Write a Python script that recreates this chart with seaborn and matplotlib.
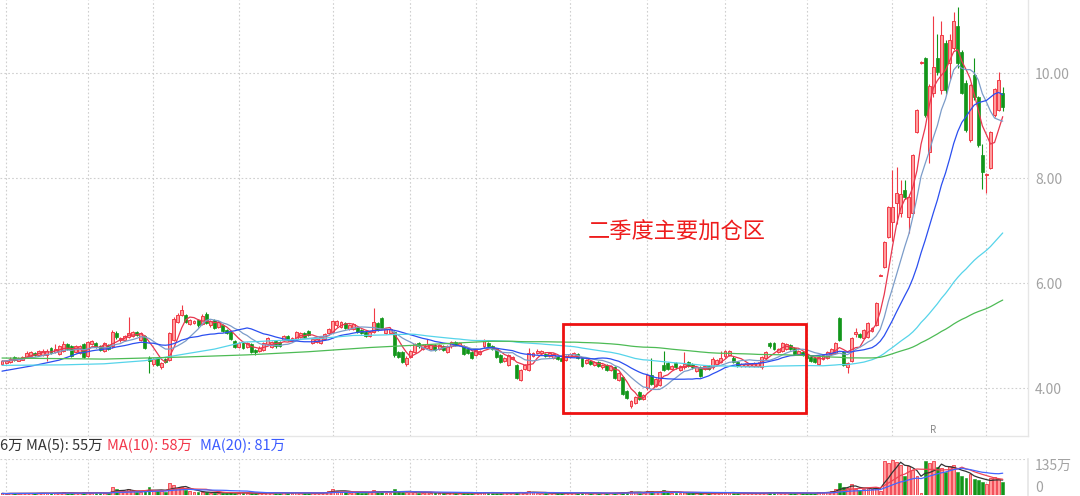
import numpy as np
import pandas as pd
import matplotlib
matplotlib.use("Agg")
import matplotlib.pyplot as plt
import seaborn as sns
from matplotlib.patches import Rectangle

# daily candles (left to right)
opens = [
    4.47, 4.48, 4.50, 4.60, 4.53, 4.55, 4.60, 4.62, 4.68, 4.63,
    4.64, 4.64, 4.77, 4.70, 4.66, 4.72, 4.85, 4.80, 4.70, 4.67,
    4.85, 4.62, 4.84, 4.87, 4.80, 4.72, 4.82, 4.80, 5.06, 4.92,
    4.93, 4.98, 5.00, 5.07, 4.92, 5.00, 4.58, 4.46, 4.58, 4.40,
    4.56, 4.55, 4.92, 5.27, 5.40, 5.40, 5.22, 5.24, 5.30, 5.22,
    5.42, 5.20, 5.30, 5.18, 5.21, 5.12, 5.08, 4.90, 4.79, 4.87,
    4.79, 4.85, 4.74, 4.71, 4.74, 4.84, 4.79, 4.90, 4.88, 4.92,
    5.00, 4.90, 4.94, 4.98, 5.06, 5.10, 4.87, 4.88, 4.86, 4.95,
    5.05, 5.08, 5.20, 5.18, 5.24, 5.14, 5.14, 5.17, 5.12, 5.08,
    5.00, 5.08, 5.24, 5.34, 5.06, 5.06, 5.08, 4.70, 4.70, 4.46,
    4.60, 4.70, 4.86, 4.76, 4.78, 4.76, 4.82, 4.75, 4.80, 4.70,
    4.80, 4.88, 4.82, 4.80, 4.75, 4.70, 4.64, 4.66, 4.80, 4.86,
    4.80, 4.75, 4.63, 4.52, 4.45, 4.56, 4.45, 4.17, 4.38, 4.36,
    4.62, 4.67, 4.68, 4.66, 4.62, 4.58, 4.62, 4.58, 4.55, 4.60,
    4.62, 4.66, 4.58, 4.48, 4.52, 4.44, 4.50, 4.40, 4.44, 4.36,
    4.40, 4.16, 4.22, 3.96, 3.66, 3.72, 3.94, 3.80, 4.00, 4.25,
    4.05, 4.07, 4.45, 4.48, 4.37, 4.48, 4.35, 4.40, 4.50, 4.46,
    4.33, 4.40, 4.37, 4.42, 4.40, 4.46, 4.50, 4.61, 4.64, 4.59,
    4.50, 4.42, 4.42, 4.42, 4.42, 4.42, 4.40, 4.58, 4.87, 4.86,
    4.70, 4.72, 4.76, 4.82, 4.77, 4.66, 4.70, 4.64, 4.60, 4.58,
    4.46, 4.56, 4.58, 4.66, 4.68, 5.34, 4.70, 4.40, 4.52, 5.04,
    5.04, 4.97, 4.99, 5.10, 5.21, 6.15, 6.31, 6.89, 7.17, 7.53,
    7.35, 7.78, 7.27, 7.35, 8.88, 10.20, 10.30, 8.50, 9.62, 10.30,
    9.68, 10.58, 10.20, 10.48, 10.90, 10.40, 9.82, 8.73, 9.97, 9.55,
    8.45, 8.06, 8.20, 9.20, 9.30, 9.63,
]
closes = [
    4.52, 4.53, 4.57, 4.55, 4.58, 4.60, 4.68, 4.70, 4.63, 4.72,
    4.72, 4.72, 4.68, 4.75, 4.80, 4.85, 4.76, 4.62, 4.80, 4.80,
    4.60, 4.88, 4.90, 4.79, 4.74, 4.87, 4.76, 5.08, 4.98, 4.96,
    5.00, 5.06, 5.08, 5.02, 5.06, 4.78, 4.52, 4.56, 4.45, 4.48,
    4.50, 5.05, 5.33, 5.40, 5.50, 5.27, 5.30, 5.28, 5.20, 5.38,
    5.25, 5.28, 5.16, 5.27, 5.10, 5.05, 4.94, 4.79, 4.87, 4.78,
    4.86, 4.70, 4.70, 4.78, 4.87, 4.96, 4.88, 4.80, 4.81, 5.00,
    4.93, 4.96, 5.08, 5.06, 4.99, 5.02, 4.95, 4.94, 4.98, 5.03,
    5.14, 5.28, 5.29, 5.26, 5.16, 5.20, 5.22, 5.08, 5.06, 5.00,
    5.08, 5.26, 5.12, 5.15, 5.14, 5.14, 4.63, 4.60, 4.50, 4.58,
    4.72, 4.84, 4.80, 4.82, 4.84, 4.82, 4.74, 4.82, 4.74, 4.80,
    4.88, 4.82, 4.87, 4.66, 4.68, 4.58, 4.73, 4.72, 4.90, 4.80,
    4.76, 4.60, 4.50, 4.58, 4.63, 4.60, 4.20, 4.36, 4.44, 4.67,
    4.68, 4.72, 4.72, 4.62, 4.68, 4.65, 4.56, 4.52, 4.62, 4.66,
    4.68, 4.58, 4.42, 4.54, 4.47, 4.50, 4.42, 4.45, 4.36, 4.42,
    4.20, 4.30, 3.90, 3.82, 3.76, 3.84, 3.80, 3.88, 4.25, 4.08,
    4.18, 4.31, 4.35, 4.38, 4.42, 4.40, 4.42, 4.46, 4.42, 4.40,
    4.40, 4.24, 4.43, 4.37, 4.57, 4.54, 4.58, 4.72, 4.72, 4.50,
    4.43, 4.46, 4.47, 4.47, 4.48, 4.48, 4.60, 4.70, 4.80, 4.76,
    4.76, 4.86, 4.84, 4.76, 4.65, 4.72, 4.63, 4.58, 4.52, 4.50,
    4.60, 4.64, 4.70, 4.76, 4.87, 4.93, 4.45, 4.48, 4.96, 5.07,
    4.98, 5.11, 5.24, 5.16, 5.62, 6.17, 6.79, 7.46, 7.46, 7.72,
    7.70, 7.65, 7.65, 8.45, 9.30, 10.22, 9.20, 9.76, 10.12, 10.03,
    10.73, 9.68, 10.64, 11.00, 10.20, 9.63, 8.93, 9.78, 9.55, 8.64,
    8.13, 8.08, 8.88, 9.70, 9.87, 9.36,
]
highs = [
    4.54, 4.55, 4.60, 4.62, 4.60, 4.62, 4.71, 4.72, 4.70, 4.74,
    4.76, 4.75, 4.79, 4.85, 4.82, 4.90, 4.87, 4.82, 4.82, 4.83,
    4.86, 4.90, 4.93, 4.89, 4.82, 4.89, 4.84, 5.12, 5.10, 4.99,
    5.02, 5.36, 5.10, 5.09, 5.08, 5.02, 4.62, 4.58, 4.60, 4.50,
    4.58, 5.08, 5.36, 5.44, 5.59, 5.42, 5.32, 5.31, 5.32, 5.42,
    5.45, 5.30, 5.32, 5.29, 5.23, 5.14, 5.10, 4.92, 4.89, 4.89,
    4.88, 4.87, 4.76, 4.80, 4.89, 4.98, 4.90, 4.92, 4.90, 5.02,
    5.02, 4.98, 5.10, 5.08, 5.08, 5.12, 4.97, 4.96, 5.00, 5.05,
    5.16, 5.30, 5.31, 5.28, 5.26, 5.22, 5.24, 5.19, 5.14, 5.10,
    5.10, 5.53, 5.26, 5.36, 5.16, 5.16, 5.10, 4.72, 4.72, 4.62,
    4.74, 4.86, 4.88, 4.84, 4.94, 4.84, 4.84, 4.84, 4.82, 4.82,
    4.90, 4.90, 4.89, 4.82, 4.77, 4.72, 4.75, 4.74, 4.95, 4.88,
    4.82, 4.77, 4.65, 4.60, 4.65, 4.62, 4.47, 4.38, 4.46, 4.77,
    4.70, 4.76, 4.74, 4.68, 4.70, 4.67, 4.64, 4.60, 4.64, 4.68,
    4.70, 4.68, 4.60, 4.56, 4.54, 4.52, 4.52, 4.47, 4.46, 4.44,
    4.42, 4.32, 4.24, 3.98, 3.78, 3.86, 3.96, 3.90, 4.27, 4.58,
    4.20, 4.33, 4.72, 4.50, 4.44, 4.50, 4.44, 4.70, 4.52, 4.48,
    4.42, 4.42, 4.45, 4.44, 4.60, 4.56, 4.72, 4.74, 4.74, 4.61,
    4.52, 4.48, 4.49, 4.49, 4.50, 4.50, 4.62, 4.72, 4.89, 4.88,
    4.78, 4.88, 4.86, 4.84, 4.79, 4.74, 4.72, 4.66, 4.62, 4.60,
    4.62, 4.66, 4.72, 4.78, 4.89, 5.36, 4.72, 4.50, 4.98, 5.16,
    5.06, 5.13, 5.26, 5.18, 5.64, 6.18, 6.81, 7.48, 8.17, 8.22,
    7.97, 7.97, 7.70, 8.47, 9.32, 10.24, 10.32, 9.80, 11.10, 10.75,
    11.00, 10.64, 10.76, 11.17, 11.27, 10.45, 9.88, 9.80, 10.30, 9.58,
    8.65, 8.10, 8.90, 9.72, 10.02, 9.75,
]
lows = [
    4.45, 4.46, 4.48, 4.53, 4.52, 4.54, 4.58, 4.60, 4.61, 4.62,
    4.62, 4.52, 4.66, 4.68, 4.64, 4.70, 4.74, 4.60, 4.68, 4.65,
    4.58, 4.60, 4.82, 4.77, 4.72, 4.70, 4.74, 4.78, 4.95, 4.88,
    4.90, 4.96, 4.98, 5.00, 4.90, 4.76, 4.30, 4.43, 4.42, 4.37,
    4.48, 4.53, 4.90, 5.25, 5.38, 5.25, 5.20, 5.22, 5.18, 5.20,
    5.23, 5.18, 5.14, 5.16, 5.08, 5.03, 4.92, 4.77, 4.77, 4.76,
    4.77, 4.67, 4.64, 4.69, 4.72, 4.82, 4.77, 4.78, 4.79, 4.90,
    4.91, 4.88, 4.92, 4.96, 4.97, 5.00, 4.85, 4.86, 4.84, 4.93,
    5.03, 5.06, 5.18, 5.16, 5.14, 5.12, 5.12, 5.06, 5.04, 4.98,
    4.98, 5.06, 5.10, 5.13, 5.04, 5.04, 4.60, 4.58, 4.48, 4.42,
    4.58, 4.68, 4.78, 4.74, 4.76, 4.74, 4.72, 4.73, 4.72, 4.68,
    4.78, 4.80, 4.80, 4.64, 4.66, 4.56, 4.62, 4.64, 4.78, 4.78,
    4.74, 4.58, 4.48, 4.50, 4.43, 4.54, 4.18, 4.15, 4.36, 4.34,
    4.60, 4.65, 4.66, 4.60, 4.60, 4.56, 4.54, 4.50, 4.53, 4.58,
    4.60, 4.56, 4.40, 4.46, 4.45, 4.42, 4.40, 4.38, 4.34, 4.34,
    4.18, 4.14, 3.88, 3.80, 3.62, 3.70, 3.78, 3.78, 3.98, 4.06,
    4.03, 4.05, 4.33, 4.36, 4.35, 4.38, 4.33, 4.38, 4.40, 4.38,
    4.31, 4.22, 4.35, 4.35, 4.38, 4.44, 4.48, 4.59, 4.62, 4.48,
    4.41, 4.40, 4.40, 4.40, 4.40, 4.40, 4.38, 4.56, 4.78, 4.74,
    4.68, 4.70, 4.74, 4.74, 4.63, 4.64, 4.61, 4.56, 4.50, 4.48,
    4.44, 4.54, 4.56, 4.64, 4.66, 4.91, 4.43, 4.30, 4.50, 4.98,
    4.96, 4.95, 4.97, 5.08, 5.19, 6.14, 6.29, 6.87, 6.80, 7.13,
    7.27, 7.60, 6.96, 7.33, 8.86, 10.18, 9.18, 8.30, 9.55, 9.98,
    9.60, 9.60, 9.90, 10.44, 10.10, 9.60, 8.88, 8.70, 9.50, 8.60,
    7.80, 7.72, 8.18, 9.18, 9.28, 9.28,
]
# volume in 万
volumes = [
    4, 3, 5, 4, 3, 4, 6, 5, 4, 5,
    6, 5, 4, 7, 6, 8, 5, 6, 5, 4,
    9, 10, 7, 5, 4, 6, 5, 30, 22, 12,
    10, 20, 14, 9, 11, 15, 28, 18, 14, 12,
    10, 43, 36, 25, 30, 18, 12, 10, 8, 9,
    8, 7, 6, 7, 5, 6, 8, 7, 5, 6,
    5, 6, 4, 5, 7, 9, 6, 5, 6, 8,
    5, 6, 9, 7, 5, 6, 5, 6, 7, 8,
    14, 22, 15, 10, 8, 7, 9, 8, 7, 6,
    8, 18, 12, 9, 7, 6, 20, 12, 10, 9,
    8, 11, 7, 6, 8, 6, 5, 6, 5, 7,
    8, 6, 5, 6, 5, 4, 6, 7, 10, 8,
    6, 5, 7, 8, 6, 5, 10, 8, 6, 12,
    9, 7, 6, 5, 6, 5, 4, 5, 6, 5,
    4, 5, 8, 6, 5, 4, 5, 4, 5, 4,
    7, 6, 10, 9, 12, 8, 7, 6, 14, 12,
    8, 9, 18, 10, 7, 6, 5, 8, 6, 5,
    4, 5, 7, 5, 4, 8, 6, 9, 8, 7,
    5, 4, 5, 4, 5, 4, 6, 7, 9, 8,
    6, 5, 7, 6, 5, 6, 5, 4, 5, 6,
    10, 8, 9, 12, 20, 45, 30, 25, 40, 22,
    18, 20, 25, 22, 30, 15, 127, 118, 133, 122,
    114, 69, 108, 95, 69, 6, 126, 118, 128, 106,
    100, 84, 110, 114, 84, 70, 62, 78, 60, 56,
    49, 40, 62, 68, 59, 46,
]

ma20_head = {0: 4.33, 8: 4.44, 14: 4.54}
ma60_head = {0: 4.44, 15: 4.45, 25: 4.47, 35: 4.53, 45: 4.66, 52: 4.75}
ma120_head = {0: 4.58, 25: 4.56, 45: 4.60, 60: 4.64, 75: 4.70, 90: 4.78, 105: 4.84}

month_ticks = [1, 21, 37, 58, 81, 100, 116, 139, 158, 177, 197, 218, 241]
price_ticks = [4, 6, 8, 10]

note_text = "二季度主要加仓区"
note_pos = (165.2, 6.98)
box_x = (137.3, 196.8)
box_y = (3.53, 5.23)

sns.set_theme(style="white")
plt.rcParams['font.family'] = ['Noto Sans CJK SC', 'DejaVu Sans']
plt.rcParams['axes.unicode_minus'] = False

n = min(len(opens), len(closes), len(highs), len(lows), len(volumes))
df = pd.DataFrame({
    'open': opens[:n], 'close': closes[:n], 'high': highs[:n],
    'low': lows[:n], 'vol': volumes[:n],
})
df['idx'] = np.arange(n)
up = (df['close'] >= df['open']).values

RED = '#f03a46'
RED_FILL = '#ff9d9d'
GREEN = '#12961a'
GRID = '#cfcfcf'

fig = plt.figure(figsize=(10.8, 4.96), dpi=100)
ax = fig.add_axes([0, 0.121, 0.9519, 0.879])
axv = fig.add_axes([0, 0.003, 0.9519, 0.0716])

xlim = (-0.49, 251.2)

# candles
ax.vlines(df['idx'], df['low'], df['high'],
          colors=np.where(up, RED, GREEN), linewidth=0.8, zorder=2)
body_lo = np.minimum(df['open'], df['close'])
body_h = np.maximum((df['close'] - df['open']).abs(), 0.02)
ax.bar(df['idx'][up], body_h[up], bottom=body_lo[up], width=0.72,
       color=RED_FILL, edgecolor=RED, linewidth=0.7, zorder=3)
ax.bar(df['idx'][~up], body_h[~up], bottom=body_lo[~up], width=0.72,
       color=GREEN, edgecolor=GREEN, linewidth=0.5, zorder=3)

# moving averages
ma_styles = [(5, '#e8374f', None), (10, '#7b9cc9', None), (20, '#2b4ff0', ma20_head),
             (60, '#56d4ea', ma60_head), (120, '#4dbb55', ma120_head)]
close_s = df['close']
for win, col, head in ma_styles:
    if head is None:
        ma = close_s.rolling(win, min_periods=1).mean()
        sns.lineplot(x=df['idx'], y=ma, ax=ax, color=col, linewidth=0.9, zorder=4)
        continue
    ma = close_s.rolling(win).mean()
    tail_x = df['idx'][win - 1:]
    tail_y = ma[win - 1:]
    sns.lineplot(x=tail_x, y=tail_y, ax=ax, color=col, linewidth=0.9, zorder=4)
    hx = list(head.keys()) + [win - 1]
    hy = list(head.values()) + [ma.iloc[win - 1]]
    sns.lineplot(x=hx, y=hy, ax=ax, color=col, linewidth=0.9, zorder=4)

ax.set_xlim(*xlim)
ax.set_ylim(3.095, 11.40)
ax.set_xticks(month_ticks)
ax.set_xticklabels([])
ax.set_yticks(price_ticks)
ax.set_yticklabels([f"{v:.2f}" for v in price_ticks])
ax.yaxis.tick_right()
ax.tick_params(axis='y', length=0, pad=5, labelsize=10, labelcolor='#a3a3a3')
ax.tick_params(axis='x', length=0)
ax.grid(True, color=GRID, linestyle=(0, (1.5, 2)), linewidth=0.8)
ax.set_axisbelow(True)
ax.set_xlabel('')
ax.set_ylabel('')
for side in ['top', 'left']:
    ax.spines[side].set_visible(False)
for side in ['right', 'bottom']:
    ax.spines[side].set_color('#e6e6e6')
    ax.spines[side].set_linewidth(1)

# highlight box and note
ax.add_patch(Rectangle((box_x[0], box_y[0]), box_x[1] - box_x[0], box_y[1] - box_y[0],
                       fill=False, edgecolor='#ee1111', linewidth=2, zorder=6))
ax.text(note_pos[0], note_pos[1], note_text, color='#ee1c1c', fontsize=16,
        ha='center', va='center', zorder=6)
ax.text(228, 3.12, "R", color='#8a8a8a', fontsize=7, ha='center', va='bottom')

# volume panel
axv.bar(df['idx'][up], df['vol'][up], width=0.7, color=RED_FILL,
        edgecolor=RED, linewidth=0.6, zorder=3)
axv.bar(df['idx'][~up], df['vol'][~up], width=0.7, color=GREEN,
        edgecolor=GREEN, linewidth=0.4, zorder=3)
vol_s = df['vol']
for win, col in [(5, '#333333'), (10, '#ee4455'), (20, '#4466ff')]:
    sns.lineplot(x=df['idx'], y=vol_s.rolling(win, min_periods=1).mean(), ax=axv,
                 color=col, linewidth=0.9, zorder=4)
axv.set_xlim(*xlim)
axv.set_ylim(0, 135)
axv.set_xticks(month_ticks)
axv.set_xticklabels([])
axv.set_yticks([135])
axv.set_yticklabels([])
axv.tick_params(length=0)
axv.grid(True, color=GRID, linestyle=(0, (1.5, 2)), linewidth=0.8)
axv.set_axisbelow(True)
axv.set_xlabel('')
axv.set_ylabel('')
for side in ['top', 'left', 'bottom']:
    axv.spines[side].set_visible(False)
axv.spines['right'].set_color('#e6e6e6')
tr = axv.get_yaxis_transform()
axv.text(1.0068, 135, "135万", transform=tr, ha='left', va='top',
         fontsize=10, color='#a3a3a3', clip_on=False)
axv.text(1.0068, 0, "0", transform=tr, ha='left', va='bottom',
         fontsize=10, color='#a3a3a3', clip_on=False)

# volume legend line
ly = 1 - 446 / 496
fig.text(0.0, ly, "6万 MA(5): 55万", color='#333333', fontsize=10.5, va='center')
fig.text(107 / 1080, ly, "MA(10): 58万", color='#f2364a', fontsize=10.5, va='center')
fig.text(200 / 1080, ly, "MA(20): 81万", color='#3b5bff', fontsize=10.5, va='center')

fig.savefig("out.png", dpi=100)
